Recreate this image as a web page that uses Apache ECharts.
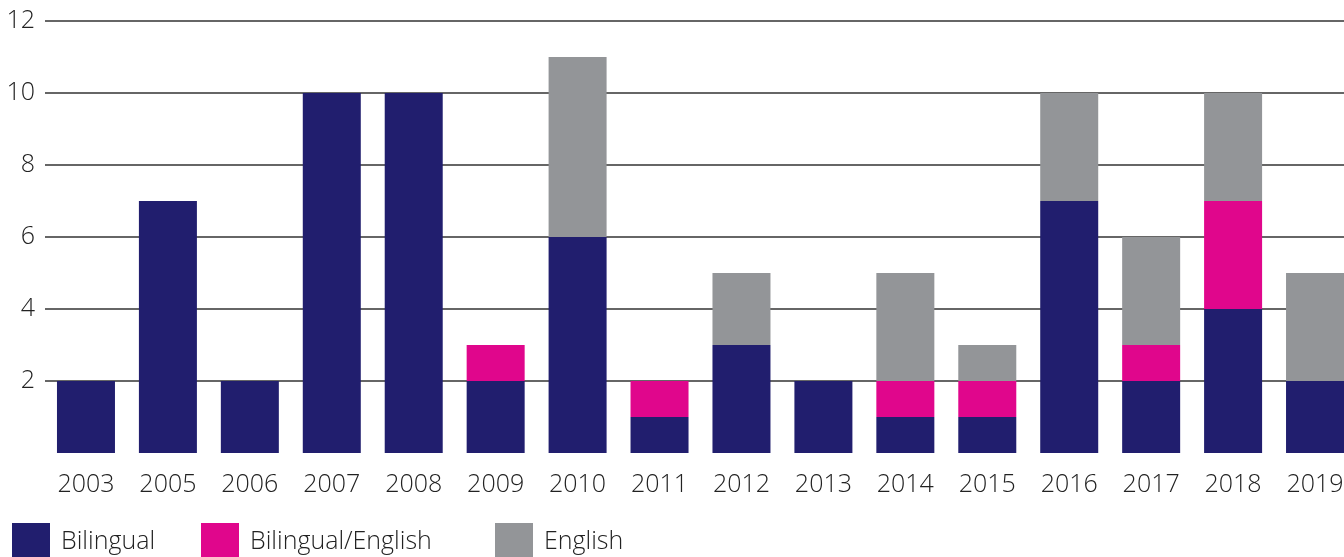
<!DOCTYPE html>
<html>
<head>
<meta charset="utf-8">
<script src="https://cdn.jsdelivr.net/npm/echarts@6/dist/echarts.min.js"></script>
<style>
  html, body { margin: 0; padding: 0; background: #fff; }
  #chart { width: 1344px; height: 557px; }
</style>
</head>
<body>
<div id="chart"></div>
<script>
  const years = ['2003', '2005', '2006', '2007', '2008', '2009', '2010', '2011',
    '2012', '2013', '2014', '2015', '2016', '2017', '2018', '2019'];
  const bilingual = [2, 7, 2, 10, 10, 2, 6, 1, 3, 2, 1, 1, 7, 2, 4, 2];
  const bilingualEnglish = [0, 0, 0, 0, 0, 1, 0, 1, 0, 0, 1, 1, 0, 1, 3, 0];
  const english = [0, 0, 0, 0, 0, 0, 5, 0, 2, 0, 3, 1, 3, 3, 3, 3];

  const names = ['Bilingual', 'Bilingual/English', 'English'];
  const colors = ['#211e6e', '#e0068c', '#939598'];
  const font = '"Open Sans", sans-serif';

  const chart = echarts.init(document.getElementById('chart'));

  // one legend per item so spacing can follow the reference
  // (the squares run off the bottom edge, as in the reference crop)
  const legendLeft = [12, 201, 495];
  const legends = names.map((n, i) => ({
    data: [n],
    left: legendLeft[i],
    top: 523,
    padding: 0,
    itemWidth: 38,
    itemHeight: 38,
    itemGap: 0,
    icon: 'rect',
    textStyle: { fontFamily: font, fontWeight: 300, fontSize: 25, color: '#222', padding: [6, 0, 0, 6] }
  }));

  const option = {
    animation: false,
    legend: legends,
    // plot runs a little past the right edge, like the reference crop
    grid: { left: 45, width: 1311, top: 21, height: 432, outerBoundsMode: 'none' },
    xAxis: {
      type: 'category',
      data: years,
      axisLine: { show: false },
      axisTick: { show: false },
      axisLabel: { fontFamily: font, fontWeight: 300, fontSize: 25, color: '#222', margin: 19 }
    },
    yAxis: {
      type: 'value',
      min: 0,
      max: 12,
      interval: 2,
      axisLine: { show: false },
      axisTick: { show: false },
      axisLabel: {
        fontFamily: font, fontWeight: 300, fontSize: 25, color: '#222', margin: 10,
        formatter: v => (v === 0 ? '' : v)
      },
      splitLine: {
        lineStyle: {
          color: ['transparent', '#333', '#333', '#333', '#333', '#333', '#333'],
          width: 1.5
        }
      }
    },
    series: [bilingual, bilingualEnglish, english].map((d, i) => ({
      name: names[i],
      type: 'bar',
      stack: 'total',
      barWidth: 58,
      itemStyle: { color: colors[i] },
      data: d.map(v => (v === 0 ? null : v))
    }))
  };
  chart.setOption(option);
</script>
</body>
</html>
